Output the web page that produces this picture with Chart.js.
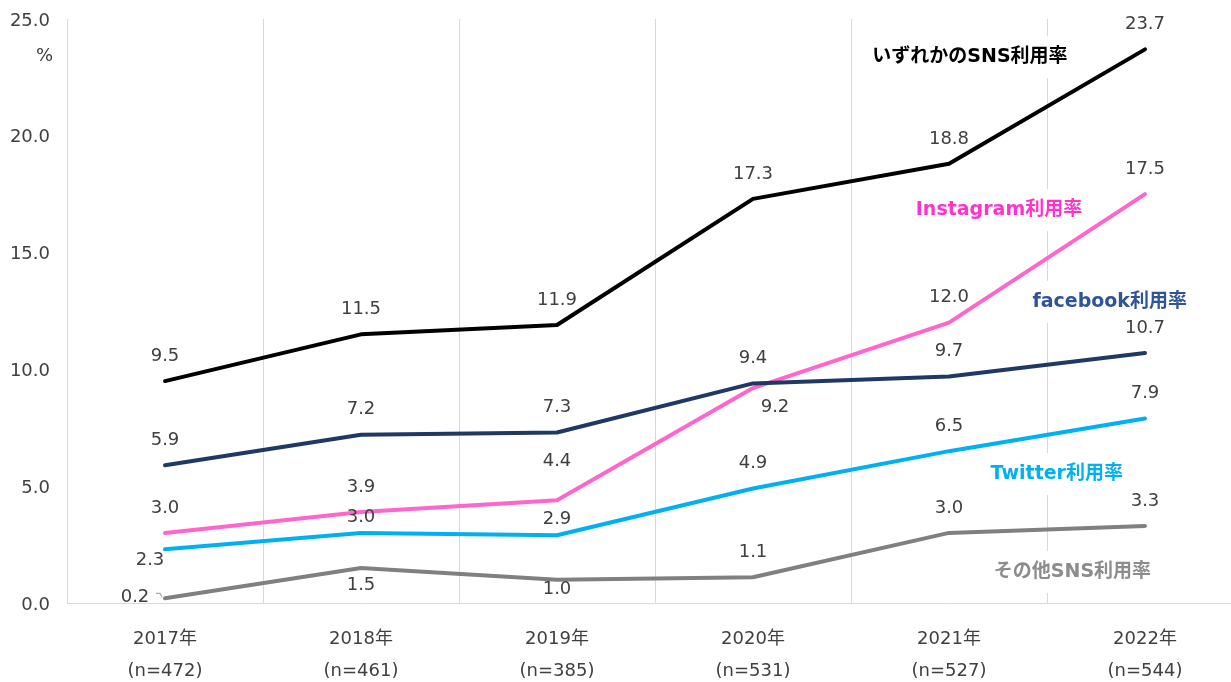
<!DOCTYPE html>
<html>
<head>
<meta charset="utf-8">
<script src="https://cdn.jsdelivr.net/npm/chart.js@4/dist/chart.umd.min.js"></script>
<style>
html,body{margin:0;padding:0;background:#fff;overflow:hidden;}
#wrap{width:1231px;height:682px;overflow:hidden;position:relative;}
canvas{display:block;}
</style>
</head>
<body>
<div id="wrap"><canvas id="c" width="1260" height="682"></canvas></div>
<script>
// ---- data ----
const years = ['2017年','2018年','2019年','2020年','2021年','2022年'];
const sampleSizes = ['(n=472)','(n=461)','(n=385)','(n=531)','(n=527)','(n=544)'];
const seriesNames = ['いずれかのSNS利用率','facebook利用率','Instagram利用率','Twitter利用率','その他SNS利用率'];
const anySNS    = [9.5, 11.5, 11.9, 17.3, 18.8, 23.7];
const facebook  = [5.9, 7.2, 7.3, 9.4, 9.7, 10.7];
const instagram = [3.0, 3.9, 4.4, 9.2, 12.0, 17.5];
const twitter   = [2.3, 3.0, 2.9, 4.9, 6.5, 7.9];
const otherSNS  = [0.2, 1.5, 1.0, 1.1, 3.0, 3.3];
const yTicks = [0, 5, 10, 15, 20, 25];

// ---- styles ----
const lineColors  = ['#000000', '#203864', '#FF66CC', '#00B0F0', '#808080'];
const nameColors  = ['#000000', '#2F5597', '#FF33CC', '#00B0F0', '#8C8C8C'];
// series-name annotation anchors (category index, value)
const nameAnchors = [[4.107, 23.37], [4.82, 12.89], [4.255, 16.82], [4.55, 5.52], [4.63, 1.33]];
// data-label offsets in px: default above the point; exceptions by [dataset, point]
const defaultLabelDy = -25;
const labelExceptions = {
  '3,0': [-15, 11],
  '3,1': [0, -16],
  '3,2': [0, -16],
  '2,2': [0, -39],
  '4,0': [-30, -1],
  '4,1': [0, 17],
  '4,2': [0, 10],
  '2,3': [22, 19]
};
const FONT = "'DejaVu Sans', 'Noto Sans CJK JP', sans-serif";
const textColor = '#404040';
const gridColor = '#D9D9D9';

const seriesData = [anySNS, facebook, instagram, twitter, otherSNS];
const datasets = seriesData.map((d, i) => ({
  label: seriesNames[i],
  data: d,
  borderColor: lineColors[i],
  backgroundColor: lineColors[i],
  borderWidth: 4,
  pointRadius: 0,
  tension: 0,
  borderCapStyle: 'round',
  borderJoinStyle: 'round',
  fill: false,
  order: i
}));

const labelPlugin = {
  id: 'labels',
  beforeDatasetsDraw(chart) {
    const ctx = chart.ctx;
    const xs = chart.scales.x, ys = chart.scales.y;
    ctx.save();
    ctx.font = 'bold 19px ' + FONT;
    nameAnchors.forEach((a, i) => {
      const x = xs.getPixelForValue(a[0]);
      const y = ys.getPixelForValue(a[1]);
      const w = ctx.measureText(seriesNames[i]).width + 12;
      ctx.fillStyle = '#ffffff';
      ctx.fillRect(x - w / 2, y - 21, w, 42);
    });
    ctx.restore();
  },
  afterDatasetsDraw(chart) {
    const ctx = chart.ctx;
    const xs = chart.scales.x, ys = chart.scales.y;
    ctx.save();
    ctx.font = 'bold 19px ' + FONT;
    ctx.textAlign = 'center';
    ctx.textBaseline = 'middle';
    nameAnchors.forEach((a, i) => {
      ctx.fillStyle = nameColors[i];
      ctx.fillText(seriesNames[i], xs.getPixelForValue(a[0]), ys.getPixelForValue(a[1]));
    });
    ctx.font = '18px ' + FONT;
    ctx.fillStyle = textColor;
    chart.data.datasets.forEach((ds, di) => {
      const meta = chart.getDatasetMeta(di);
      meta.data.forEach((pt, pi) => {
        const ex = labelExceptions[di + ',' + pi];
        const dx = ex ? ex[0] : 0;
        const dy = ex ? ex[1] : defaultLabelDy;
        ctx.fillText(ds.data[pi].toFixed(1), pt.x + dx, pt.y + dy);
        if (di === 4 && pi === 0) {
          ctx.strokeStyle = '#A6A6A6';
          ctx.lineWidth = 1.2;
          ctx.beginPath();
          ctx.moveTo(pt.x - 9, pt.y - 5);
          ctx.lineTo(pt.x - 5, pt.y - 5);
          ctx.lineTo(pt.x - 3, pt.y - 1);
          ctx.stroke();
        }
      });
    });
    ctx.textAlign = 'right';
    ctx.fillText('%', 53, 56);
    ctx.restore();
  }
};

new Chart(document.getElementById('c'), {
  type: 'line',
  data: { labels: years.map((y, i) => [y, sampleSizes[i]]), datasets },
  options: {
    responsive: false,
    animation: false,
    layout: { padding: { top: 19, right: 17, left: 0, bottom: 0 } },
    plugins: { legend: { display: false }, tooltip: { enabled: false } },
    scales: {
      x: {
        offset: true,
        grid: { offset: true, color: gridColor, lineWidth: 1, drawTicks: false },
        border: { color: gridColor, width: 1 },
        ticks: { color: textColor, font: { family: FONT, size: 18, lineHeight: 1.75 }, padding: 21, maxRotation: 0 },
        afterFit(s) { s.height = 79; s.paddingLeft = 0; s.paddingRight = 0; }
      },
      y: {
        min: 0, max: 25,
        afterBuildTicks(s) { s.ticks = yTicks.map(v => ({ value: v })); },
        grid: { display: false, drawTicks: false },
        border: { color: gridColor, width: 1 },
        ticks: { color: textColor, font: { family: FONT, size: 18 }, padding: 17, labelOffset: 2,
                 callback: v => Number(v).toFixed(1) },
        afterFit(s) { s.width = 67; s.paddingTop = 0; s.paddingBottom = 0; }
      }
    }
  },
  plugins: [labelPlugin]
});
</script>
</body>
</html>
